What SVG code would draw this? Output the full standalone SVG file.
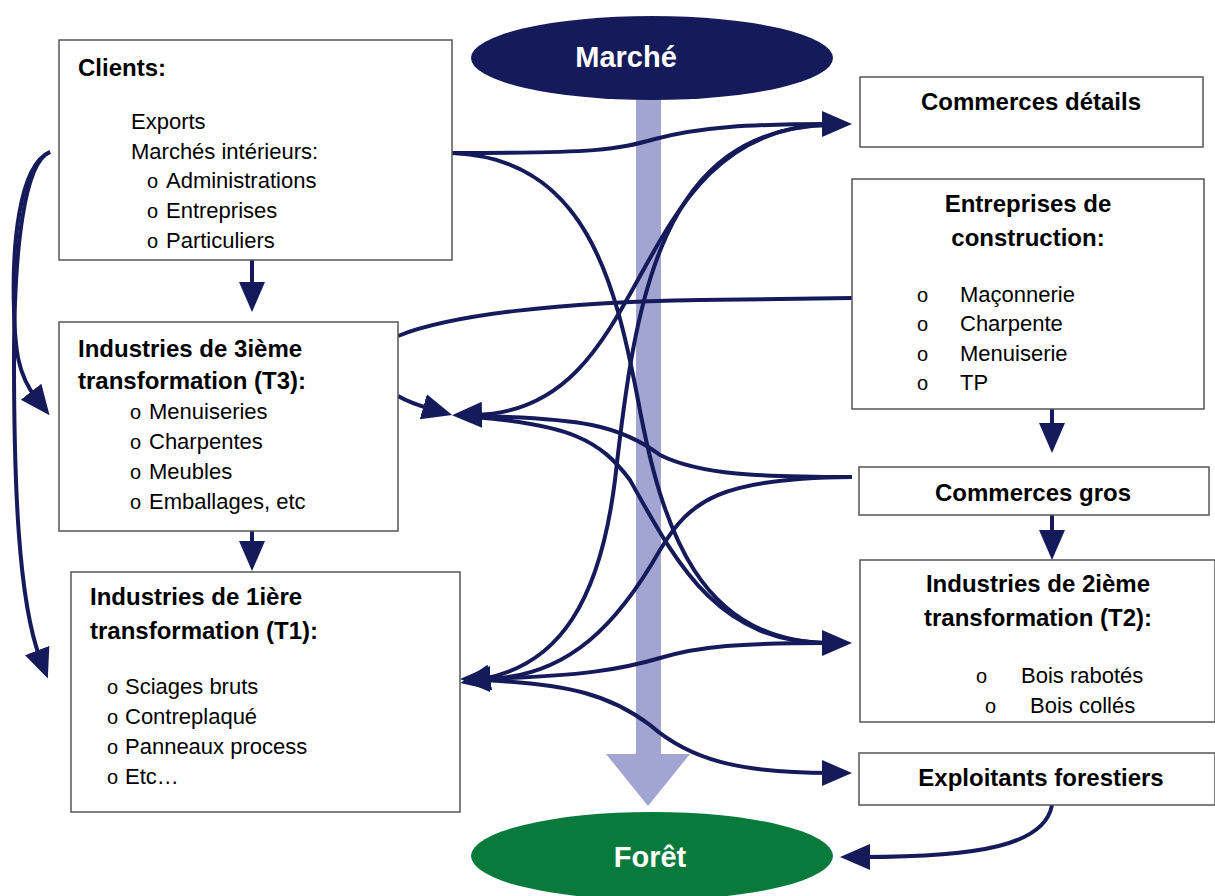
<svg xmlns="http://www.w3.org/2000/svg" width="1215" height="896" viewBox="0 0 1215 896">
<style>
.box{fill:#fff;stroke:#555;stroke-width:1.5}
.t{font-family:"Liberation Sans",Arial,sans-serif;font-size:22px;fill:#000}
.b{font-family:"Liberation Sans",Arial,sans-serif;font-size:24px;font-weight:bold;fill:#000}
.bl{font-family:"Liberation Sans",Arial,sans-serif;font-size:20px;fill:#000}
.c{fill:none;stroke:#141A5A;stroke-width:4}
.e{font-family:"Liberation Sans",Arial,sans-serif;font-size:29px;font-weight:bold;fill:#fff;text-anchor:middle}
.m{text-anchor:middle}
</style>
<defs>
<marker id="ah" markerUnits="userSpaceOnUse" markerWidth="32" markerHeight="28" refX="8" refY="13" orient="auto-start-reverse">
<path d="M0,0 L30,13 L0,26 z" fill="#141A5A"/>
</marker>
</defs>
<rect width="1215" height="896" fill="#fff"/>

<g id="flow-arrow">
<path d="M636,95 L661,95 L661,754 L690,754 L648,806 L606,754 L636,754 z" fill="#A2A5D2"/>
</g>

<g id="marche">
<ellipse cx="652" cy="58" rx="181" ry="42" fill="#141A5A"/>
<text class="e" x="626" y="67">Marché</text>
</g>
<g id="foret">
<ellipse cx="652" cy="856" rx="181" ry="44" fill="#087A3C"/>
<text class="e" x="650" y="867">Forêt</text>
</g>

<g id="connectors">
<path class="c" d="M452,153 C600,153 615,150 655,139 C700,127 750,124 830,124" marker-end="url(#ah)"/>
<path class="c" d="M452,153 C585,158 615,280 638,400 C662,530 700,643 830,643" marker-end="url(#ah)"/>
<path class="c" d="M474,415 C660,412 620,130 830,124" marker-start="url(#ah)"/>
<path class="c" d="M482,679 C560,665 600,600 615,480 C635,300 660,128 830,125" marker-start="url(#ah)"/>
<path class="c" d="M474,416 C580,418 620,425 660,455 C700,475 760,477 852,477"/>
<path class="c" d="M474,417 C570,425 600,440 630,480 C680,570 720,643 830,643"/>
<path class="c" d="M852,298 L700,300 C560,302 450,315 398,336"/>
<path class="c" d="M398,396 Q410,403 431,409" marker-end="url(#ah)"/>
<path class="c" d="M852,477 C720,478 690,500 660,550 C620,620 570,679 482,679" marker-end="url(#ah)"/>
<path class="c" d="M482,679 C580,676 620,670 660,658 C700,646 740,643 830,643"/>
<path class="c" d="M482,680 C570,684 610,695 650,725 C690,760 740,773 830,773" marker-end="url(#ah)"/>
<path class="c" d="M1052,805 C1045,845 980,857 862,857" marker-end="url(#ah)"/>
<path class="c" d="M50,152 C18,165 12,250 14,310 C15,350 18,375 36,398" marker-end="url(#ah)"/>
<path class="c" d="M50,152 C24,162 14,250 14,360 C14,480 18,600 40,658" marker-end="url(#ah)"/>
<path class="c" d="M252,260 L252,290" marker-end="url(#ah)"/>
<path class="c" d="M252,531 L252,549" marker-end="url(#ah)"/>
<path class="c" d="M1052,409 L1052,431" marker-end="url(#ah)"/>
<path class="c" d="M1052,515 L1052,538" marker-end="url(#ah)"/>
</g>

<g id="clients">
<rect class="box" x="59" y="40" width="393" height="220"/>
<text class="b" x="78" y="76">Clients:</text>
<text class="t" x="131" y="129">Exports</text>
<text class="t" x="131" y="159">Marchés intérieurs:</text>
<text class="bl" x="147" y="188">o</text><text class="t" x="166" y="188">Administrations</text>
<text class="bl" x="147" y="218">o</text><text class="t" x="166" y="218">Entreprises</text>
<text class="bl" x="147" y="248">o</text><text class="t" x="166" y="248">Particuliers</text>
</g>

<g id="t3">
<rect class="box" x="59" y="322" width="339" height="209"/>
<text class="b" x="78" y="357">Industries de 3ième</text>
<text class="b" x="78" y="389">transformation (T3):</text>
<text class="bl" x="130" y="419">o</text><text class="t" x="149" y="419">Menuiseries</text>
<text class="bl" x="130" y="449">o</text><text class="t" x="149" y="449">Charpentes</text>
<text class="bl" x="130" y="479">o</text><text class="t" x="149" y="479">Meubles</text>
<text class="bl" x="130" y="509">o</text><text class="t" x="149" y="509">Emballages, etc</text>
</g>

<g id="t1">
<rect class="box" x="71" y="572" width="389" height="240"/>
<text class="b" x="90" y="605">Industries de 1ière</text>
<text class="b" x="90" y="639">transformation (T1):</text>
<text class="bl" x="107" y="694">o</text><text class="t" x="125" y="694">Sciages bruts</text>
<text class="bl" x="107" y="724">o</text><text class="t" x="125" y="724">Contreplaqué</text>
<text class="bl" x="107" y="754">o</text><text class="t" x="125" y="754">Panneaux process</text>
<text class="bl" x="107" y="784">o</text><text class="t" x="125" y="784">Etc…</text>
</g>

<g id="commerces-details">
<rect class="box" x="860" y="77" width="343" height="70"/>
<text class="b m" x="1031" y="110">Commerces détails</text>
</g>

<g id="entreprises-construction">
<rect class="box" x="852" y="179" width="352" height="230"/>
<text class="b m" x="1028" y="212">Entreprises de</text>
<text class="b m" x="1028" y="246">construction:</text>
<text class="bl" x="917" y="302">o</text><text class="t" x="960" y="302">Maçonnerie</text>
<text class="bl" x="917" y="331">o</text><text class="t" x="960" y="331">Charpente</text>
<text class="bl" x="917" y="361">o</text><text class="t" x="960" y="361">Menuiserie</text>
<text class="bl" x="917" y="390">o</text><text class="t" x="960" y="390">TP</text>
</g>

<g id="commerces-gros">
<rect class="box" x="859" y="467" width="350" height="48"/>
<text class="b m" x="1033" y="501">Commerces gros</text>
</g>

<g id="t2">
<rect class="box" x="860" y="560" width="355" height="162"/>
<text class="b m" x="1038" y="592">Industries de 2ième</text>
<text class="b m" x="1038" y="626">transformation (T2):</text>
<text class="bl" x="976" y="683">o</text><text class="t" x="1021" y="683">Bois rabotés</text>
<text class="bl" x="985" y="713">o</text><text class="t" x="1030" y="713">Bois collés</text>
</g>

<g id="exploitants">
<rect class="box" x="859" y="753" width="356" height="52"/>
<text class="b m" x="1041" y="786">Exploitants forestiers</text>
</g>
</svg>
